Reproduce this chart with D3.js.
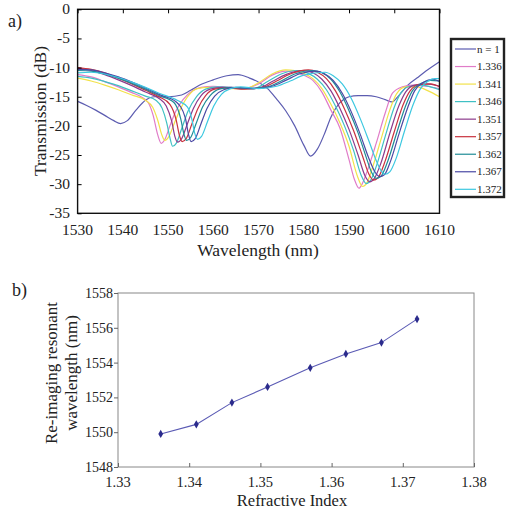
<!DOCTYPE html>
<html>
<head>
<meta charset="utf-8">
<script src="https://cdn.jsdelivr.net/npm/d3@7"></script>
<style>
  body { margin: 0; background: #fff; font-family: "Times New Roman", Times, "Liberation Serif", serif; }
</style>
</head>
<body>
<svg width="511" height="509"></svg>
<script>
// ---- data: top panel, transmission spectra [wavelength nm, dB] ----
const legendLabels = ['n = 1', '1.336', '1.341', '1.346', '1.351', '1.357', '1.362', '1.367', '1.372']
const wlTicks = [1530, 1540, 1550, 1560, 1570, 1580, 1590, 1600, 1610]
const dbTicks = [0, -5, -10, -15, -20, -25, -30, -35]

const specAir = [[1530,-15.8],[1532,-16.5],[1534,-17.3],[1536,-18.2],[1538,-19.1],[1539.5,-19.6],[1541,-19.1],[1543,-17.2],[1545,-15.6],[1547,-15.0],[1550,-15.0],[1553,-14.7],[1555,-13.9],[1557,-13.0],[1560,-12.1],[1563,-11.4],[1565.5,-11.2],[1568,-11.8],[1570,-12.5],[1572,-13.6],[1574,-15.4],[1576,-17.4],[1578,-20.0],[1580,-23.3],[1581.5,-25.2],[1583,-24.0],[1584.5,-21.5],[1586,-18.5],[1588,-16.0],[1590,-15.0],[1592,-14.8],[1594,-14.8],[1596,-15.0],[1598,-15.5],[1599.5,-15.9],[1601,-14.8],[1603,-13.0],[1605,-11.8],[1607,-10.6],[1610,-9.0]]
const spec1336 = [[1530,-11.2],[1533,-11.6],[1536,-12.4],[1539,-13.3],[1542,-14.3],[1544,-15.0],[1545.6,-16.0],[1546.7,-18.2],[1547.7,-21.5],[1548.5,-23.0],[1549.3,-22.3],[1550.4,-20.0],[1551.7,-17.5],[1553.3,-15.5],[1555.3,-14.0],[1557.3,-13.4],[1560,-13.2],[1564,-13.4],[1567,-13.5],[1570,-12.8],[1573,-11.3],[1576,-10.6],[1578,-10.8],[1580,-11.3],[1582,-12.2],[1584,-14.2],[1586,-17.3],[1588,-20.4],[1590,-25.8],[1591.2,-29.2],[1592.2,-30.7],[1593,-29.8],[1594,-27.8],[1596,-23.0],[1598,-17.8],[1599.6,-14.4],[1601.8,-13.3],[1604,-13.0],[1607,-13.2],[1610,-13.6]]
const spec1341 = [[1530,-11.8],[1533,-12.3],[1536,-13.0],[1539,-13.8],[1542,-14.7],[1545,-15.6],[1546.6,-16.8],[1547.7,-19.0],[1548.6,-21.5],[1549.3,-22.5],[1550.2,-21.8],[1551.4,-19.5],[1552.8,-17.0],[1554.5,-14.8],[1556.5,-13.6],[1559,-13.4],[1563,-13.6],[1567,-13.6],[1570,-12.6],[1573,-11.1],[1576,-10.4],[1578,-10.5],[1580,-11.0],[1582,-11.9],[1584,-13.6],[1586,-16.3],[1588,-19.5],[1590,-23.5],[1591.8,-28.5],[1593,-30.4],[1594,-29.7],[1595,-27.6],[1597,-22.5],[1599,-17.3],[1600.5,-14.5],[1602.5,-13.3],[1605,-13.3],[1607.5,-14.0],[1610,-15.0]]
const spec1346 = [[1530,-11.5],[1533,-11.8],[1536,-12.4],[1539,-13.1],[1542,-14.0],[1545,-14.9],[1547.3,-15.6],[1548.7,-17.0],[1549.7,-19.5],[1550.4,-22.0],[1551,-23.5],[1551.8,-23.0],[1553,-20.5],[1554.4,-17.5],[1556.3,-15.0],[1558.3,-13.7],[1561,-13.3],[1565,-13.5],[1569,-13.6],[1572,-12.4],[1575,-11.1],[1578.5,-10.5],[1581,-11.0],[1583,-12.0],[1585,-13.8],[1587,-16.6],[1589,-20.0],[1591,-24.2],[1592.7,-28.5],[1593.8,-29.9],[1594.8,-29.3],[1596,-27.0],[1598,-21.8],[1600,-16.8],[1601.5,-14.3],[1603.5,-13.2],[1606,-13.0],[1608,-13.3],[1610,-13.8]]
const spec1351 = [[1530,-10.1],[1533,-10.5],[1536,-11.2],[1539,-12.1],[1542,-13.1],[1545,-14.2],[1548,-15.3],[1549.6,-16.6],[1550.8,-19.2],[1551.5,-21.8],[1552.1,-22.8],[1553,-22.2],[1554.2,-19.8],[1555.6,-17.0],[1557.3,-14.8],[1559.3,-13.7],[1562,-13.4],[1566,-13.6],[1570,-13.5],[1573,-12.4],[1576,-11.2],[1580,-10.5],[1582,-10.9],[1584,-12.0],[1586,-14.0],[1588,-17.0],[1590,-20.6],[1592,-25.0],[1593.5,-28.5],[1594.6,-29.6],[1595.6,-29.0],[1597,-26.5],[1599,-21.3],[1601,-16.6],[1602.5,-14.2],[1604.5,-13.0],[1607,-12.8],[1610,-13.2]]
const spec1357 = [[1530,-10.0],[1533,-10.3],[1536,-10.9],[1539,-11.8],[1542,-12.8],[1545,-13.9],[1548,-15.0],[1550.4,-16.3],[1551.8,-19.0],[1552.5,-21.6],[1553.1,-22.7],[1554,-22.2],[1555.2,-19.8],[1556.6,-17.0],[1558.3,-14.8],[1560.3,-13.7],[1563,-13.5],[1567,-13.7],[1571,-13.4],[1574,-12.3],[1577,-11.1],[1581,-10.4],[1583,-10.8],[1585,-11.9],[1587,-14.0],[1589,-17.1],[1591,-20.8],[1593,-25.2],[1594.4,-28.3],[1595.4,-29.3],[1596.4,-28.9],[1598,-26.0],[1600,-21.0],[1602,-16.3],[1603.5,-14.0],[1605.5,-12.9],[1608,-12.8],[1610,-13.3]]
const spec1362 = [[1530,-10.5],[1533,-10.6],[1536,-11.1],[1539,-11.8],[1542,-12.7],[1545,-13.7],[1548,-14.8],[1551.3,-16.0],[1552.8,-18.8],[1553.5,-21.4],[1554.1,-22.5],[1555,-22.0],[1556.2,-19.6],[1557.6,-16.8],[1559.3,-14.8],[1561.3,-13.7],[1564,-13.4],[1568,-13.6],[1572,-13.3],[1575,-12.3],[1578,-11.1],[1582,-10.5],[1584,-10.9],[1586,-12.0],[1588,-14.2],[1590,-17.4],[1592,-21.2],[1593.8,-25.4],[1595,-28.0],[1596,-29.0],[1597,-28.7],[1598.5,-26.2],[1600.5,-21.3],[1602.5,-16.6],[1604,-14.0],[1606,-12.7],[1608,-12.2],[1610,-12.3]]
const spec1367 = [[1530,-10.3],[1533,-10.4],[1536,-10.9],[1539,-11.6],[1542,-12.5],[1545,-13.5],[1548,-14.6],[1551.8,-15.9],[1553.8,-18.6],[1554.5,-21.4],[1555.1,-22.7],[1556,-22.2],[1557.2,-19.8],[1558.6,-17.0],[1560.3,-14.9],[1562.3,-13.8],[1565,-13.4],[1569,-13.6],[1573,-13.2],[1576,-12.2],[1579,-11.1],[1582.5,-10.6],[1584.5,-11.0],[1586.5,-12.2],[1588.5,-14.4],[1590.5,-17.6],[1592.5,-21.5],[1594.4,-25.6],[1595.8,-28.0],[1596.8,-28.7],[1597.8,-28.4],[1599.2,-26.0],[1601,-21.5],[1603,-16.8],[1604.5,-14.0],[1606.5,-12.5],[1608.5,-12.0],[1610,-12.4]]
const spec1372 = [[1530,-10.9],[1533,-10.8],[1536,-11.1],[1539,-11.7],[1542,-12.5],[1545,-13.4],[1548,-14.4],[1552,-15.6],[1554.3,-16.8],[1555.3,-19.0],[1555.9,-21.3],[1556.5,-22.3],[1557.4,-21.8],[1558.7,-19.3],[1560.1,-16.6],[1561.8,-14.6],[1563.8,-13.6],[1566,-13.3],[1570,-13.6],[1574,-13.2],[1577,-12.3],[1580,-11.3],[1584.7,-10.8],[1586.5,-11.4],[1588.5,-12.8],[1590.5,-15.3],[1592.5,-18.8],[1594.5,-22.8],[1596.2,-26.3],[1597.2,-27.8],[1598,-28.3],[1599,-27.9],[1600.5,-25.4],[1602.3,-20.8],[1604.2,-16.3],[1605.8,-13.6],[1607.5,-12.3],[1609,-11.9],[1610,-11.9]]

// ---- data: bottom panel, re-imaging resonant wavelength ----
const refIndex = [1.336, 1.341, 1.346, 1.351, 1.357, 1.362, 1.367, 1.372]
const resWavelength = [1549.9, 1550.45, 1551.7, 1552.6, 1553.7, 1554.5, 1555.15, 1556.5]
const riTicks = [1.33, 1.34, 1.35, 1.36, 1.37, 1.38]
const rwTicks = [1548, 1550, 1552, 1554, 1556, 1558]

const spectra = [specAir, spec1336, spec1341, spec1346, spec1351, spec1357, spec1362, spec1367, spec1372]
const colors = ['#5c5cb0', '#e07cc8', '#f2e24a', '#3fc0c4', '#8c3a8c', '#c8323e', '#1f8c96', '#4a48a4', '#3cc8e0']
const serif = '"Liberation Serif", "Times New Roman", Times, "DejaVu Serif", serif'

const svg = d3.select('svg')
  .attr('font-family', serif)
  .style('font-family', serif)

// ================= panel a =================
const xa = d3.scaleLinear().domain([1530, 1610]).range([77.6, 439.5])
const ya = d3.scaleLinear().domain([-35, 0]).range([213.3, 9.3])

const lineA = d3.line()
  .x(d => xa(d[0]))
  .y(d => ya(d[1]))
  .curve(d3.curveMonotoneX)

svg.append('g')
  .selectAll('path')
  .data(spectra)
  .enter()
  .append('path')
  .attr('d', d => lineA(d))
  .attr('fill', 'none')
  .attr('stroke', (d, i) => colors[i])
  .attr('stroke-width', 1.2)

// frame
svg.append('rect')
  .attr('x', xa(1530)).attr('y', ya(0))
  .attr('width', xa(1610) - xa(1530)).attr('height', ya(-35) - ya(0))
  .attr('fill', 'none').attr('stroke', '#111').attr('stroke-width', 1.4)

// inward ticks, top + left
svg.append('g')
  .attr('transform', `translate(0,${ya(0)})`)
  .call(d3.axisTop(xa).tickValues(wlTicks).tickSize(-4).tickFormat(''))
  .call(g => g.select('.domain').remove())
svg.append('g')
  .attr('transform', `translate(${xa(1530)},0)`)
  .call(d3.axisLeft(ya).tickValues(dbTicks).tickSize(-4).tickFormat(''))
  .call(g => g.select('.domain').remove())

const txt = (sel) => sel.attr('font-family', serif).style('font-family', serif).attr('fill', '#222')

svg.append('g')
  .selectAll('text')
  .data(wlTicks)
  .enter()
  .append('text')
  .call(txt)
  .attr('x', d => xa(d))
  .attr('y', 235)
  .attr('text-anchor', 'middle')
  .attr('font-size', 15.5)
  .text(d => d)

svg.append('g')
  .selectAll('text')
  .data(dbTicks)
  .enter()
  .append('text')
  .call(txt)
  .attr('x', 70)
  .attr('y', d => ya(d) + 5)
  .attr('text-anchor', 'end')
  .attr('font-size', 15.5)
  .text(d => d)

svg.append('text').call(txt)
  .attr('x', 258).attr('y', 256)
  .attr('text-anchor', 'middle').attr('font-size', 17.5)
  .text('Wavelength (nm)')

svg.append('text').call(txt)
  .attr('transform', 'translate(46,111) rotate(-90)')
  .attr('text-anchor', 'middle').attr('font-size', 17.5)
  .text('Transmission (dB)')

svg.append('text').call(txt)
  .attr('x', 8).attr('y', 27).attr('font-size', 18)
  .text('a)')

// legend
const legY = d3.scalePoint().domain(legendLabels).range([49, 189.3])
svg.append('rect')
  .attr('x', 451).attr('y', 39).attr('width', 53).attr('height', 158)
  .attr('fill', '#fff').attr('stroke', '#222').attr('stroke-width', 2.4)

const legItems = svg.append('g')
  .selectAll('g')
  .data(legendLabels)
  .enter()
  .append('g')
  .attr('transform', d => `translate(0,${legY(d)})`)

legItems.append('line')
  .attr('x1', 455).attr('x2', 476)
  .attr('stroke', (d, i) => colors[i])
  .attr('stroke-width', 1.2)

legItems.append('text').call(txt)
  .attr('x', 477).attr('y', 3.5)
  .attr('font-size', 11)
  .text(d => d)

// ================= panel b =================
const xb = d3.scaleLinear().domain([1.33, 1.38]).range([118, 474])
const yb = d3.scaleLinear().domain([1548, 1558]).range([467, 293])

svg.append('rect')
  .attr('x', xb(1.33)).attr('y', yb(1558))
  .attr('width', xb(1.38) - xb(1.33)).attr('height', yb(1548) - yb(1558))
  .attr('fill', 'none').attr('stroke', '#888').attr('stroke-width', 1)

svg.append('g')
  .attr('transform', `translate(0,${yb(1548)})`)
  .call(d3.axisBottom(xb).tickValues(riTicks).tickSize(-4).tickFormat(''))
  .call(g => g.select('.domain').remove())
  .call(g => g.selectAll('line').attr('stroke', '#666'))
svg.append('g')
  .attr('transform', `translate(${xb(1.33)},0)`)
  .call(d3.axisLeft(yb).tickValues(rwTicks).tickSize(4).tickFormat(''))
  .call(g => g.select('.domain').remove())
  .call(g => g.selectAll('line').attr('stroke', '#666'))

svg.append('g')
  .selectAll('text')
  .data(riTicks)
  .enter()
  .append('text')
  .call(txt)
  .attr('x', d => xb(d))
  .attr('y', 487)
  .attr('text-anchor', 'middle')
  .attr('font-size', 14.5)
  .text(d => d3.format('.2f')(d))

svg.append('g')
  .selectAll('text')
  .data(rwTicks)
  .enter()
  .append('text')
  .call(txt)
  .attr('x', 113)
  .attr('y', d => yb(d) + 5)
  .attr('text-anchor', 'end')
  .attr('font-size', 14)
  .text(d => d)

const pts = refIndex.map((r, i) => [r, resWavelength[i]])

svg.append('path')
  .attr('d', d3.line().x(d => xb(d[0])).y(d => yb(d[1]))(pts))
  .attr('fill', 'none')
  .attr('stroke', '#5a5ab4')
  .attr('stroke-width', 1.1)

svg.append('g')
  .selectAll('path')
  .data(pts)
  .enter()
  .append('path')
  .attr('transform', d => `translate(${xb(d[0])},${yb(d[1])})`)
  .attr('d', d3.symbol().type(d3.symbolDiamond).size(20))
  .attr('fill', '#2b2b8c')

svg.append('text').call(txt)
  .attr('transform', 'translate(57,373) rotate(-90)')
  .attr('text-anchor', 'middle').attr('font-size', 17)
  .text('Re-imaging resonant')
svg.append('text').call(txt)
  .attr('transform', 'translate(77,373) rotate(-90)')
  .attr('text-anchor', 'middle').attr('font-size', 17)
  .text('wavelength (nm)')

svg.append('text').call(txt)
  .attr('x', 292).attr('y', 506)
  .attr('text-anchor', 'middle').attr('font-size', 16.5)
  .text('Refractive Index')

svg.append('text').call(txt)
  .attr('x', 12).attr('y', 296).attr('font-size', 18)
  .text('b)')
</script>
</body>
</html>
